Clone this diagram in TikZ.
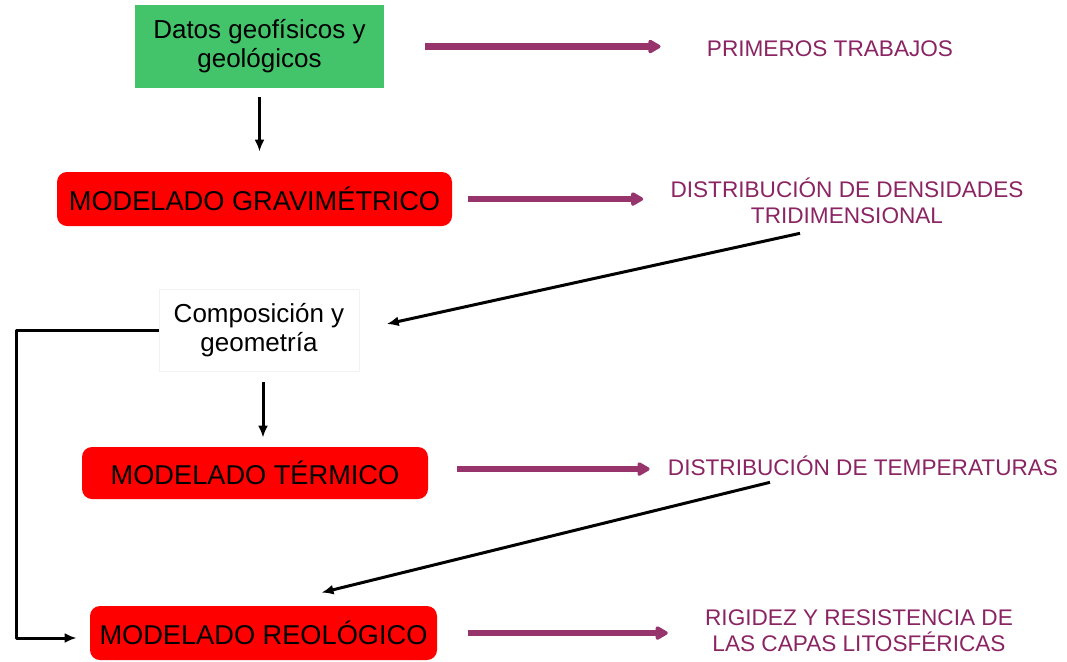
\documentclass[tikz,border=0pt]{standalone}
\usepackage{fontspec}
\setmainfont{Liberation Sans}
\usetikzlibrary{arrows.meta}
\definecolor{verde}{RGB}{67,196,106}
\definecolor{rojo}{RGB}{255,0,0}
\definecolor{morado}{RGB}{138,36,98}
\definecolor{flecha}{RGB}{152,52,108}

\begin{document}
\begin{tikzpicture}[x=0.5pt,y=-0.5pt,line join=bevel,
  caja/.style={rectangle,align=center,inner sep=0pt,font=\fontsize{13}{14.5}\selectfont},
  modelo/.style={rectangle,rounded corners=5pt,fill=rojo,inner sep=0pt,font=\fontsize{13.6}{15}\selectfont},
  salida/.style={align=center,text=morado,inner sep=0pt,font=\fontsize{11.3}{13}\selectfont},
  flujo/.style={black,line width=1.5pt,-{Latex[length=6pt,width=5pt]}},
  resultado/.style={flecha,line width=3.2pt,-{Triangle[length=7pt,width=7.5pt,round]}}]
\useasboundingbox (0,0) rectangle (1067,661);
%%
\node (node_0) at (259.5,46.5) [caja,fill=verde,minimum width=124.5pt,minimum height=41.5pt] {Datos geofísicos y\\geológicos};
  \node (node_1) at (254.5,199) [modelo,minimum width=197.5pt,minimum height=27pt] {MODELADO GRAVIMÉTRICO};
  \node (node_2) at (259,330) [caja,draw=black!5,fill=white,minimum width=100pt,minimum height=41pt] {Composición y\\geometría};
  \node (node_3) at (255,473) [modelo,minimum width=173pt,minimum height=26pt] {MODELADO TÉRMICO};
  \node (node_4) at (263.5,633) [modelo,minimum width=173.5pt,minimum height=27pt] {MODELADO REOLÓGICO};
  \node (node_5) at (830,49) [salida] {PRIMEROS TRABAJOS};
  \node (node_6) at (847,201) [salida] {DISTRIBUCIÓN DE DENSIDADES\\TRIDIMENSIONAL};
  \node (node_7) at (863,466) [salida] {DISTRIBUCIÓN DE TEMPERATURAS};
  \node (node_8) at (859,631) [salida] {RIGIDEZ Y RESISTENCIA DE\\LAS CAPAS LITOSFÉRICAS};
  \coordinate (codo_0) at (16,330);
%
  \draw [flujo,shorten <=4.5pt,shorten >=10pt] (node_0.south) -- (node_1.north -| node_0.south);
  \draw [flujo,shorten <=5.5pt,shorten >=4.5pt] ([xshift=2pt]node_2.south) -- ([xshift=2pt]node_3.north -| node_2.south);
  \draw [flujo] (node_2.west) -- (codo_0) |- ([xshift=-6.5pt,yshift=-2.5pt]node_4.west);
  \draw [flujo,shorten >=14pt] ([xshift=-23.5pt,yshift=-4.5pt]node_6.south) -- (node_2.east);
  \draw [flujo] ([xshift=-46.5pt,yshift=-3pt]node_7.south) -- ([xshift=29pt,yshift=6.5pt]node_4.north);
  \draw [resultado,shorten <=20.5pt,shorten >=23pt] (node_0.east) -- (node_0.east -| node_5.west);
  \draw [resultado,shorten <=8pt,shorten >=13.5pt] (node_1.east) -- (node_1.east -| node_6.west);
  \draw [resultado,shorten <=14.5pt,shorten >=9pt] ([yshift=2pt]node_3.east) -- ([yshift=2pt]node_3.east -| node_7.west);
  \draw [resultado,shorten <=15.5pt,shorten >=18.5pt] (node_4.east) -- (node_4.east -| node_8.west);
%
\end{tikzpicture}
\end{document}
